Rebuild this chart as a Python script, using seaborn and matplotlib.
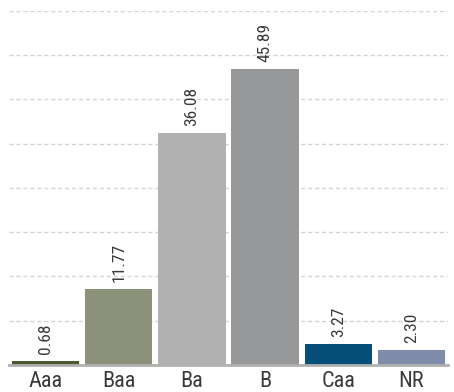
import matplotlib
matplotlib.use("Agg")
import matplotlib.pyplot as plt
import seaborn as sns
import numpy as np
import pandas as pd
from matplotlib import font_manager

categories = ["Aaa", "Baa", "Ba", "B", "Caa", "NR"]
values = [0.68, 11.77, 36.08, 45.89, 3.27, 2.30]
colors = ["#4b5a2e", "#8c917a", "#b1b1b1", "#97989a", "#074f7b", "#7f8dab"]

sns.set_theme(style="white")
names = {f.name for f in font_manager.fontManager.ttflist}
fam = "Roboto Condensed" if "Roboto Condensed" in names else "DejaVu Sans"
plt.rcParams["font.family"] = [fam, "DejaVu Sans"]

df = pd.DataFrame({"cat": categories, "val": values})

fig = plt.figure(figsize=(4.54, 3.92), dpi=100)
ax = fig.add_axes([9 / 454, 27 / 392, 439 / 454, 354.3 / 392])
sns.barplot(data=df, x="cat", y="val", hue="cat", palette=colors, order=categories,
            hue_order=categories, width=0.92, legend=False, ax=ax, saturation=1,
            linewidth=0)

ax.set_ylim(0, 55)
ax.set_yticks(np.linspace(0, 55, 9))
ax.yaxis.grid(True, color="#d4d4d4", linestyle=(0, (3, 2)), linewidth=1)
ax.set_axisbelow(True)
for s in ["top", "right", "left"]:
    ax.spines[s].set_visible(False)
ax.spines["bottom"].set_color("#b0b0b0")
ax.spines["bottom"].set_linewidth(2)
ax.set_yticklabels([])
ax.tick_params(axis="y", length=0)
ax.tick_params(axis="x", length=0, labelsize=16, labelcolor="#3a3a3a", pad=4)
ax.set_xlabel("")
ax.set_ylabel("")

for i, v in enumerate(values):
    ax.annotate(f"{v:.2f}", (i, v), xytext=(0, 5), textcoords="offset points",
                rotation=90, ha="center", va="bottom", fontsize=12.5, color="#3a3a3a")

fig.savefig("out.png", dpi=100)
